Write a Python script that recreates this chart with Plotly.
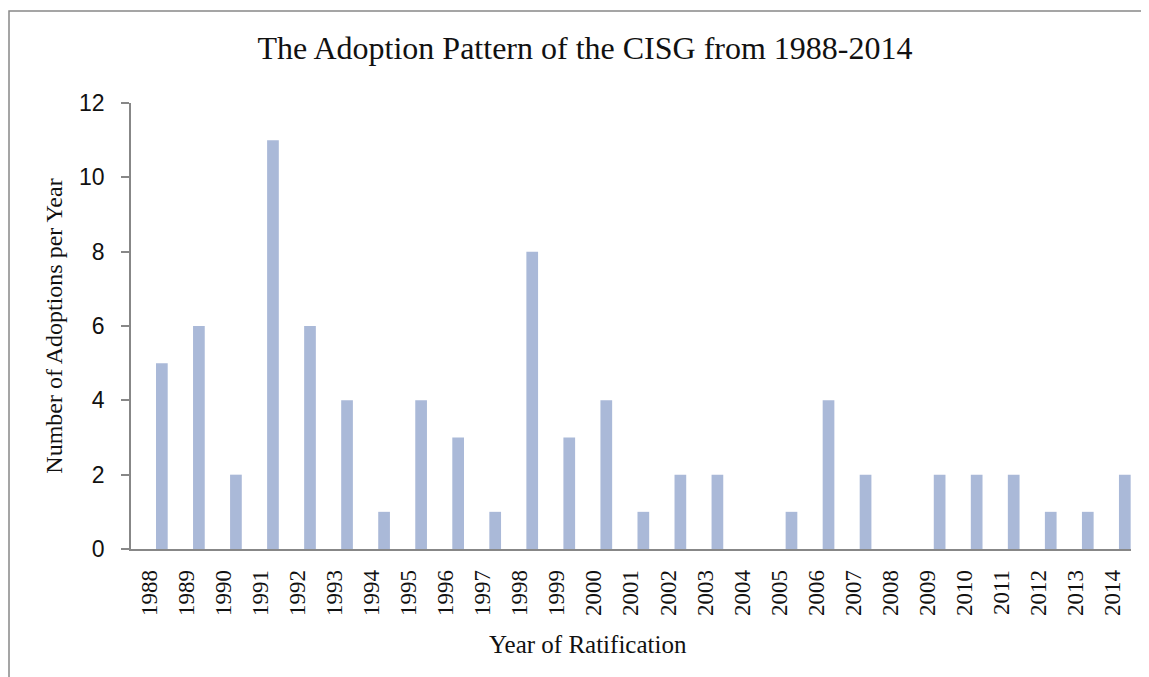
import plotly.graph_objects as go

years = [str(y) for y in range(1988, 2015)]
adoptions = [5, 6, 2, 11, 6, 4, 1, 4, 3, 1, 8, 3, 4, 1, 2, 2, 0, 1, 4, 2, 0, 2, 2, 2, 1, 1, 2]

# page is offset by 8px body margin; figure coords = page coords - 8
W, H = 1141, 669
L, R, T, B = 123, 18, 95, 128
pw, ph = W - L - R, H - T - B

fig = go.Figure(go.Bar(
    x=years, y=adoptions,
    marker=dict(color="#AAB9D8", line=dict(width=0)),
    width=0.316, offset=0.175,
))

serif = "Liberation Serif"
fig.update_layout(
    width=W, height=H,
    margin=dict(l=L, r=R, t=T, b=B),
    paper_bgcolor="white", plot_bgcolor="white",
    showlegend=False,
    title=dict(text="The Adoption Pattern of the CISG from 1988-2014",
               font=dict(family=serif, size=32, color="#111"),
               x=577 / W, xanchor="center", y=1 - 40 / H, yanchor="middle"),
    xaxis=dict(type="category", showline=True, linecolor="#878787", linewidth=1.5,
               ticks="outside", ticklen=10, tickcolor="rgba(0,0,0,0)",
               tickangle=-90, showgrid=False,
               tickfont=dict(family=serif, size=23, color="#111")),
    yaxis=dict(range=[0, 12], dtick=2, showline=True, linecolor="#878787", linewidth=1.5,
               ticks="outside", ticklen=8, tickcolor="#878787", tickwidth=1.5,
               ticklabelstandoff=12,
               showgrid=False, zeroline=False,
               tickfont=dict(family="Liberation Sans", size=23, color="#111"),
               title=dict(text="Number of Adoptions per Year", font=dict(family=serif, size=24, color="#111"),
                          standoff=10)),
    annotations=[dict(text="Year of Ratification", showarrow=False,
                      xref="paper", yref="paper",
                      x=(579.5 - L) / pw, y=-(636 - (T + ph)) / ph,
                      xanchor="center", yanchor="middle",
                      font=dict(family=serif, size=25, color="#111"))],
    shapes=[dict(type="rect", xref="paper", yref="paper",
                 x0=(1 - L) / pw, x1=(W + 30 - L) / pw,
                 y0=-(H + 30 - (T + ph)) / ph, y1=(T + ph - 3) / ph,
                 line=dict(color="#888888", width=1.5), layer="below")],
)

fig.write_html("out.html")
